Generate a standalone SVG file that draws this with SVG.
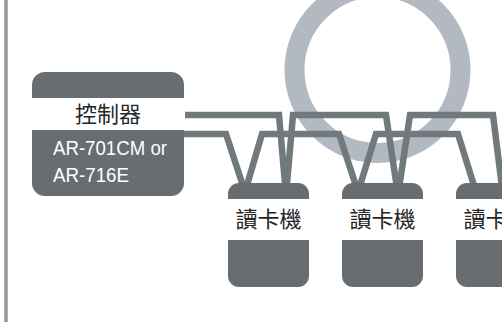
<svg xmlns="http://www.w3.org/2000/svg" width="502" height="322" viewBox="0 0 502 322">
<style>
.box{fill:#676d70}
.band{fill:#ffffff}
.wire{fill:none;stroke:#71797d;stroke-width:6.5;stroke-linejoin:miter}
.cjk{font-family:"Noto Sans CJK TC","Noto Sans CJK SC",sans-serif;font-size:22px;fill:#262626;text-anchor:middle}
.lat{font-family:"Liberation Sans",Arial,sans-serif;font-size:21px;fill:#ffffff}
</style>
<rect x="0" y="0" width="502" height="322" fill="#ffffff"/>
<line x1="6" y1="0" x2="6" y2="322" stroke="#939a9e" stroke-width="3.5"/>
<circle cx="377.5" cy="70" r="83" fill="none" stroke="#b2b9c1" stroke-width="20"/>
<g id="connectors">
<path class="wire" d="M184,115 H279 L286,195 L293,115 H386 L398,195 L410,115 H493 L503,195"/>
<path class="wire" d="M184,134 H226 L245,192 L262,134 H339 L358,192 L376,134 H458 L476,192"/>
</g>
<g id="controller">
<rect class="box" x="32" y="72" width="152" height="124" rx="13"/>
<rect class="band" x="31" y="98" width="154" height="32"/>
<text class="cjk" x="108" y="122">控制器</text>
<text class="lat" x="53" y="155" textLength="114" lengthAdjust="spacingAndGlyphs">AR-701CM or</text>
<text class="lat" x="53" y="182" textLength="76" lengthAdjust="spacingAndGlyphs">AR-716E</text>
</g>
<g id="reader1">
<rect class="box" x="228" y="183" width="81" height="104" rx="11"/>
<rect class="band" x="227" y="199" width="83" height="41"/>
<text class="cjk" x="268.5" y="227">讀卡機</text>
</g>
<g id="reader2">
<rect class="box" x="342" y="183" width="81" height="104" rx="11"/>
<rect class="band" x="341" y="199" width="83" height="41"/>
<text class="cjk" x="382.5" y="227">讀卡機</text>
</g>
<g id="reader3">
<rect class="box" x="456" y="183" width="81" height="104" rx="11"/>
<rect class="band" x="455" y="199" width="83" height="41"/>
<text class="cjk" x="496.5" y="227">讀卡機</text>
</g>
</svg>
